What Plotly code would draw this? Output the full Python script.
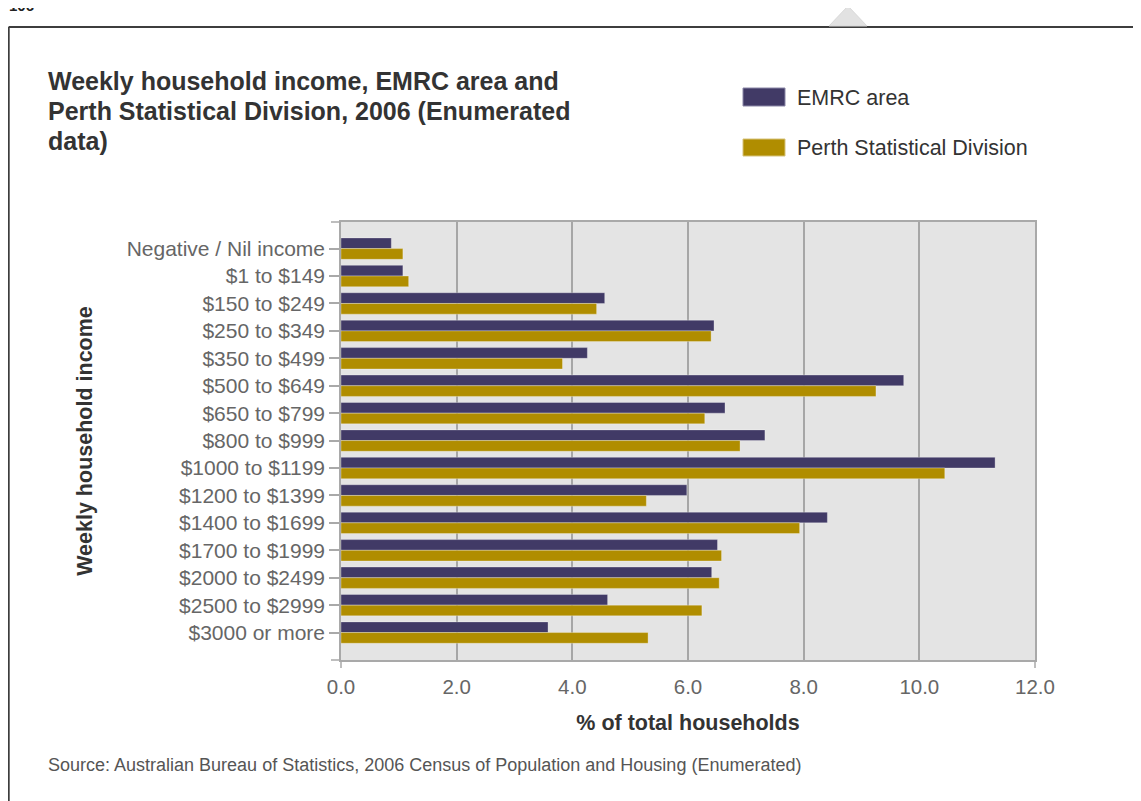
import plotly.graph_objects as go

categories = ["Negative / Nil income", "$1 to $149", "$150 to $249", "$250 to $349",
              "$350 to $499", "$500 to $649", "$650 to $799", "$800 to $999",
              "$1000 to $1199", "$1200 to $1399", "$1400 to $1699", "$1700 to $1999",
              "$2000 to $2499", "$2500 to $2999", "$3000 or more"]
emrc = [0.87, 1.07, 4.56, 6.45, 4.26, 9.73, 6.64, 7.33, 11.31, 5.98, 8.41, 6.51, 6.41, 4.61, 3.58]
perth = [1.07, 1.17, 4.42, 6.40, 3.83, 9.25, 6.29, 6.90, 10.44, 5.28, 7.93, 6.58, 6.54, 6.24, 5.31]
x_ticks = [0, 2, 4, 6, 8, 10, 12]
x_tick_labels = ["0.0", "2.0", "4.0", "6.0", "8.0", "10.0", "12.0"]
title_lines = ["Weekly household income, EMRC area and",
               "Perth Statistical Division, 2006 (Enumerated",
               "data)"]

C_EMRC = "#413a66"
C_PERTH = "#b08d00"
FONT = "Liberation Sans, Arial, sans-serif"

OFF = 8  # page body margin
W_FIG, H_FIG = 1141 - OFF, 801 - OFF
# plot area in page pixel coordinates
L, R, T, B = 341, 1035, 222, 660


def px(x):
    return (x - L) / (R - L)


def py(y):
    return (B - y) / (B - T)


fig = go.Figure()
fig.add_trace(go.Bar(y=categories, x=emrc, orientation="h", name="EMRC area",
                     marker=dict(color=C_EMRC, line=dict(color="rgba(255,255,255,0.3)", width=1))))
fig.add_trace(go.Bar(y=categories, x=perth, orientation="h", name="Perth Statistical Division",
                     marker=dict(color=C_PERTH, line=dict(color="rgba(255,255,255,0.3)", width=1))))

shapes = []
line_c = "#a9a9a9"
shapes.append(dict(type="line", xref="x domain", yref="y domain", xsizemode="pixel", xanchor=0,
                   x0=-10, x1=0, y0=1, y1=1, line=dict(color=line_c, width=1.5)))
shapes.append(dict(type="line", xref="x domain", yref="y domain", xsizemode="pixel", xanchor=0,
                   x0=-10, x1=0, y0=0, y1=0, line=dict(color=line_c, width=1.5)))
shapes.append(dict(type="line", xref="x domain", yref="y domain", ysizemode="pixel", yanchor=0,
                   x0=0, x1=0, y0=-8, y1=0, line=dict(color=line_c, width=1.5)))
shapes.append(dict(type="line", xref="x domain", yref="y domain", ysizemode="pixel", yanchor=0,
                   x0=1, x1=1, y0=-8, y1=0, line=dict(color=line_c, width=1.5)))
# page frame
shapes.append(dict(type="line", xref="paper", yref="paper", x0=px(8.6), x1=px(1145), y0=py(27), y1=py(27),
                   line=dict(color="#3d3d3d", width=2.2)))
shapes.append(dict(type="line", xref="paper", yref="paper", x0=px(8.6), x1=px(8.6), y0=py(27), y1=py(805),
                   line=dict(color="#3d3d3d", width=2.2)))
# small fold icon
shapes.append(dict(type="path", xref="paper", yref="paper",
                   path=f"M {px(829)},{py(26)} L {px(848)},{py(6)} L {px(867)},{py(26)} Z",
                   fillcolor="#e2e2e2", line=dict(color="#d8d8d8", width=1)))
# legend swatches
shapes.append(dict(type="rect", xref="paper", yref="paper", x0=px(743), x1=px(785), y0=py(106), y1=py(88),
                   fillcolor=C_EMRC, line=dict(color="#8a86a6", width=1)))
shapes.append(dict(type="rect", xref="paper", yref="paper", x0=px(743), x1=px(785), y0=py(156), y1=py(139),
                   fillcolor=C_PERTH, line=dict(color="#d6c27a", width=1)))

annotations = []
for i, line in enumerate(title_lines):
    annotations.append(dict(text=f"<b>{line}</b>", xref="paper", yref="paper", x=px(46), y=py(81 + 30 * i),
                            xanchor="left", yanchor="middle", align="left", showarrow=False,
                            font=dict(family=FONT, size=25, color="#333333")))
annotations += [
    dict(text="EMRC area", xref="paper", yref="paper", x=px(795), y=py(98), xanchor="left", yanchor="middle",
         showarrow=False, font=dict(family=FONT, size=21.5, color="#333333")),
    dict(text="Perth Statistical Division", xref="paper", yref="paper", x=px(795), y=py(148), xanchor="left",
         yanchor="middle", showarrow=False, font=dict(family=FONT, size=21.5, color="#333333")),
    dict(text="Source: Australian Bureau of Statistics, 2006 Census of Population and Housing (Enumerated)",
         xref="paper", yref="paper", x=px(46), y=py(765), xanchor="left", yanchor="middle",
         showarrow=False, font=dict(family=FONT, size=18, color="#555555")),
    dict(text="<b>106</b>", xref="paper", yref="paper", x=px(7), y=py(16), xanchor="left", yanchor="bottom",
         showarrow=False, font=dict(family=FONT, size=15, color="#222222")),
]

fig.update_layout(
    width=W_FIG, height=H_FIG,
    margin=dict(l=L - OFF, r=W_FIG - (R - OFF), t=T - OFF, b=H_FIG - (B - OFF), pad=0),
    paper_bgcolor="white", plot_bgcolor="#e4e4e4",
    barmode="group", bargap=0.22, bargroupgap=0,
    showlegend=False,
    shapes=shapes, annotations=annotations,
    font=dict(family=FONT),
)
fig.update_xaxes(range=[0, 12], tickvals=x_ticks, ticktext=x_tick_labels,
                 showgrid=True, gridcolor="#a6a6a6", gridwidth=1.5, zeroline=False,
                 showline=True, linecolor=line_c, linewidth=1.5, mirror=True,
                 ticks="", ticklabelstandoff=8,
                 tickfont=dict(family=FONT, size=20.5, color="#666666"),
                 title=dict(text="<b>% of total households</b>", standoff=18,
                            font=dict(family=FONT, size=21.5, color="#333333")))
fig.update_yaxes(type="category", categoryorder="array", categoryarray=categories,
                 range=[15.0, -0.97], showgrid=False, zeroline=False,
                 showline=True, linecolor=line_c, linewidth=1.5, mirror=True,
                 ticks="outside", ticklen=10, tickcolor=line_c, tickwidth=1.5,
                 tickfont=dict(family=FONT, size=21, color="#666666"),
                 title=dict(text="<b>Weekly household income</b>", standoff=28,
                            font=dict(family=FONT, size=21.5, color="#333333")),
                 automargin=True)

fig.write_html("out.html")
